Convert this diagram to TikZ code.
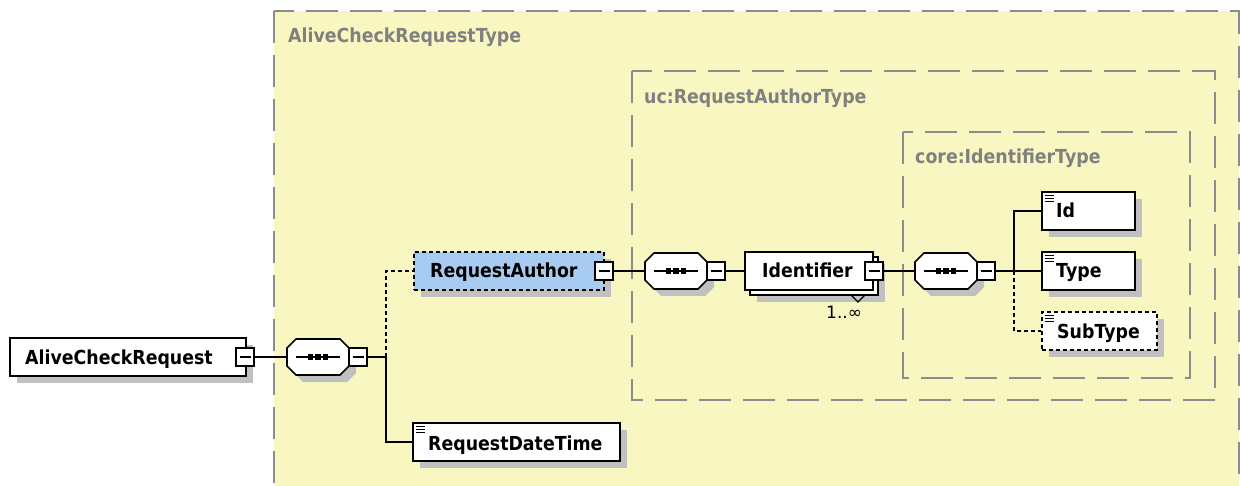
\documentclass[tikz,border=0pt]{standalone}
\usepackage{fontspec}
\setmainfont{DejaVu Sans}
\newfontfamily\narrowfont{DejaVu Sans}[FakeStretch=0.9]
\usetikzlibrary{shadows}

\definecolor{typefill}{RGB}{248,247,193}
\definecolor{boxgray}{RGB}{140,140,140}
\definecolor{labelgray}{RGB}{128,128,128}
\definecolor{shadowgray}{RGB}{192,192,192}
\definecolor{raBlue}{RGB}{168,203,241}

\newcommand\nm{\narrowfont\fontsize{19.3}{22}\selectfont\bfseries}

% sequence compositor: name, left, top
\newcommand\seqcomp[3]{%
  \fill[shadowgray] (#2+7,#3+7) ++(9,0) -- ++(44,0) -- ++(9,9) -- ++(0,18) -- ++(-9,9) -- ++(-44,0) -- ++(-9,-9) -- ++(0,-18) -- cycle;
  \draw[line width=1.6pt, fill=white] (#2,#3) ++(9,0) -- ++(44,0) -- ++(9,9) -- ++(0,18) -- ++(-9,9) -- ++(-44,0) -- ++(-9,-9) -- ++(0,-18) -- cycle;
  \node[inner sep=0pt, minimum width=62pt, minimum height=36pt] (#1) at (#2+31,#3+18) {};
  \draw[line width=1.5pt] (#1.center) ++(-22,0) -- ++(44,0);
  \foreach \dx in {-7.5,0,7.5} \fill ([xshift=\dx pt]#1.center) +(-2.7,-2.7) rectangle +(2.7,2.7);
}

% simple-type element icon in the top left corner of a box
\newcommand\elicon[1]{%
  \foreach \dy in {4,7,10} \draw[line width=1.1pt] ([shift={(3.5pt,-\dy pt)}]#1.north west) -- ++(9,0);
}

\tikzset{
  box/.style={draw=black, line width=1.6pt, fill=white, inner sep=0pt, minimum height=38pt},
  elem/.style={box, drop shadow={shadow xshift=7pt, shadow yshift=-7pt, fill=shadowgray, opacity=1}},
  optelem/.style={elem, dash pattern=on 4pt off 3pt},
  minusbox/.style={draw=black, line width=1.4pt, fill=white, minimum width=18pt, minimum height=18pt, inner sep=0pt,
    path picture={\draw[line width=1.3pt] ([xshift=-5.5pt]path picture bounding box.center) -- ([xshift=5.5pt]path picture bounding box.center);}},
  conn/.style={line width=1.5pt},
  optconn/.style={conn, dash pattern=on 4pt off 3pt},
  typebox/.style={draw=boxgray, line width=2pt, dash pattern=on 32pt off 12pt},
  lbl/.style={anchor=base west, inner sep=0pt, font=\nm},
  tlbl/.style={lbl, text=labelgray},
}

\begin{document}
\begin{tikzpicture}[x=1pt, y=-1pt]
\path[use as bounding box] (0,0) rectangle (1240,486);
\fill[white] (0,0) rectangle (1240,486);
\clip (0,0) rectangle (1240,486);

% complex type containers
\draw[typebox, fill=typefill] (274,11) rectangle (1239,530);
\node[tlbl] (t1) at (288,43) {AliveCheckRequestType};
\draw[typebox] (632,71) rectangle (1215,400);
\node[tlbl] (t2) at (644,104) {uc:RequestAuthorType};
\draw[typebox] (903,132) rectangle (1190,378);
\node[tlbl] (t3) at (915,164) {core:IdentifierType};

% root element
\node[elem, minimum width=236pt] (acr) at (128,357) {};
\node[lbl] (acrt) at (25,364) {AliveCheckRequest};
\node[minusbox] (acrm) at (245,357) {};

\seqcomp{s1}{287}{339}
\node[minusbox] (s1m) at (358,357) {};
\coordinate (j1) at (386,357);

% RequestAuthor
\node[optelem, fill=raBlue, minimum width=190pt] (ra) at (509,271) {};
\node[lbl] (rat) at (430,278) {RequestAuthor};
\node[minusbox] (ram) at (604,271) {};

% RequestDateTime
\node[elem, minimum width=207pt] (rdt) at (516.5,442) {};
\elicon{rdt}
\node[lbl] (rdtt) at (428,450) {RequestDateTime};

\seqcomp{s2}{645}{253}
\node[minusbox] (s2m) at (716,271) {};

% Identifier (repeated element)
\node[elem, minimum width=128pt] (idb) at (814,276) {};
\node[box, minimum width=128pt] (idf) at (809,271) {};
\node[lbl] (idt) at (762,278) {Identifier};
\node[minusbox] (idm) at (874,271) {};
\draw[line width=1.2pt] (851,295) -- (858,302) -- (865,295);
\node[anchor=base west, inner sep=0pt, font=\fontsize{17}{19}\selectfont] (mult) at (826,319) {1..∞};

\seqcomp{s3}{915}{253}
\node[minusbox] (s3m) at (986,271) {};
\coordinate (j2) at (1014,271);

% Identifier children
\node[elem, minimum width=93pt] (id) at (1088.5,211) {};
\elicon{id}
\node[lbl] (idl) at (1056,218) {Id};
\node[elem, minimum width=93pt] (type) at (1088.5,271) {};
\elicon{type}
\node[lbl] (typel) at (1056,278) {Type};
\node[optelem, minimum width=115pt] (sub) at (1099.5,331) {};
\elicon{sub}
\node[lbl] (subl) at (1057,338) {SubType};

% connectors
\draw[conn] (acrm.east) -- (s1.west);
\draw[conn] (s1m.east) -- (j1);
\draw[optconn] (j1) |- (ra.west);
\draw[conn] (j1) |- (rdt.west);
\draw[conn] (ram.east) -- (s2.west);
\draw[conn] (s2m.east) -- (idf.west);
\draw[conn] (idm.east) -- (s3.west);
\draw[conn] (s3m.east) -- (j2);
\draw[conn] (j2) |- (id.west);
\draw[conn] (j2) -- (type.west);
\draw[optconn] (j2) |- (sub.west);
\end{tikzpicture}
\end{document}
